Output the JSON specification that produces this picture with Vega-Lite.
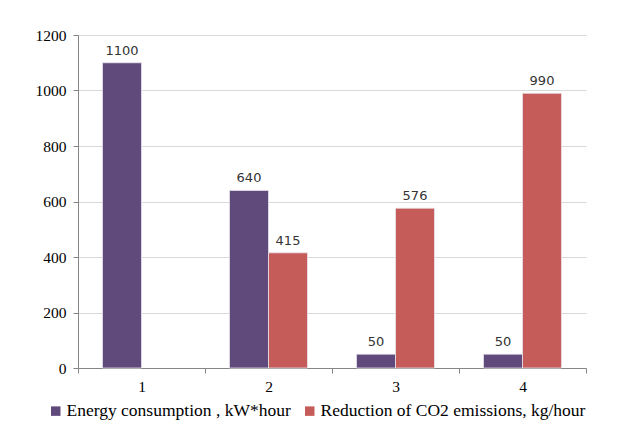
{
  "$schema": "https://vega.github.io/schema/vega-lite/v6.json",
  "width": 508,
  "height": 333,
  "autosize": {"type": "none"},
  "padding": {"left": 78, "top": 35, "right": 32, "bottom": 60},
  "background": "white",
  "config": {
    "view": {"stroke": null},
    "font": "Liberation Serif"
  },
  "data": {
    "values": [
      {"group": "1", "series": "Energy consumption , kW*hour", "value": 1100},
      {"group": "2", "series": "Energy consumption , kW*hour", "value": 640},
      {"group": "2", "series": "Reduction of CO2 emissions, kg/hour", "value": 415},
      {"group": "3", "series": "Energy consumption , kW*hour", "value": 50},
      {"group": "3", "series": "Reduction of CO2 emissions, kg/hour", "value": 576},
      {"group": "4", "series": "Energy consumption , kW*hour", "value": 50},
      {"group": "4", "series": "Reduction of CO2 emissions, kg/hour", "value": 990}
    ]
  },
  "encoding": {
    "x": {
      "field": "group", "type": "nominal",
      "scale": {"paddingInner": 0, "paddingOuter": 0},
      "axis": {
        "title": null, "labelAngle": 0, "labelFont": "Liberation Serif", "labelFontSize": 15.5,
        "labelColor": "#000000", "domainColor": "#868686", "tickColor": "#868686",
        "tickBand": "extent", "tickSize": 5, "labelPadding": 6, "grid": false
      }
    },
    "xOffset": {
      "field": "series", "type": "nominal",
      "scale": {"paddingOuter": 0.628, "paddingInner": 0}
    },
    "y": {
      "field": "value", "type": "quantitative",
      "scale": {"domain": [0, 1200]},
      "axis": {
        "title": null, "values": [0, 200, 400, 600, 800, 1000, 1200], "format": "d",
        "labelFont": "Liberation Serif", "labelFontSize": 15.5, "labelColor": "#000000",
        "domainColor": "#868686", "tickColor": "#868686", "tickSize": 5, "labelPadding": 7,
        "gridColor": "#D9D9D9", "grid": true
      }
    }
  },
  "layer": [
    {
      "mark": {"type": "bar", "stroke": "#E8E4EC", "strokeWidth": 0.8},
      "encoding": {
        "color": {
          "field": "series", "type": "nominal",
          "scale": {"range": ["#604A7B", "#C65C59"]},
          "legend": {
            "title": null, "orient": "none", "legendX": -31, "legendY": 367,
            "direction": "horizontal",
            "symbolType": "square", "symbolSize": 90, "symbolStrokeWidth": 0,
            "labelFont": "Liberation Serif", "labelFontSize": 17.5, "labelColor": "#000000",
            "labelLimit": 400, "columnPadding": 10, "labelOffset": 2
          }
        }
      }
    },
    {
      "mark": {"type": "text", "dy": -12, "font": "DejaVu Sans", "fontSize": 13, "color": "#333333"},
      "encoding": {"text": {"field": "value", "type": "quantitative"}}
    }
  ]
}
